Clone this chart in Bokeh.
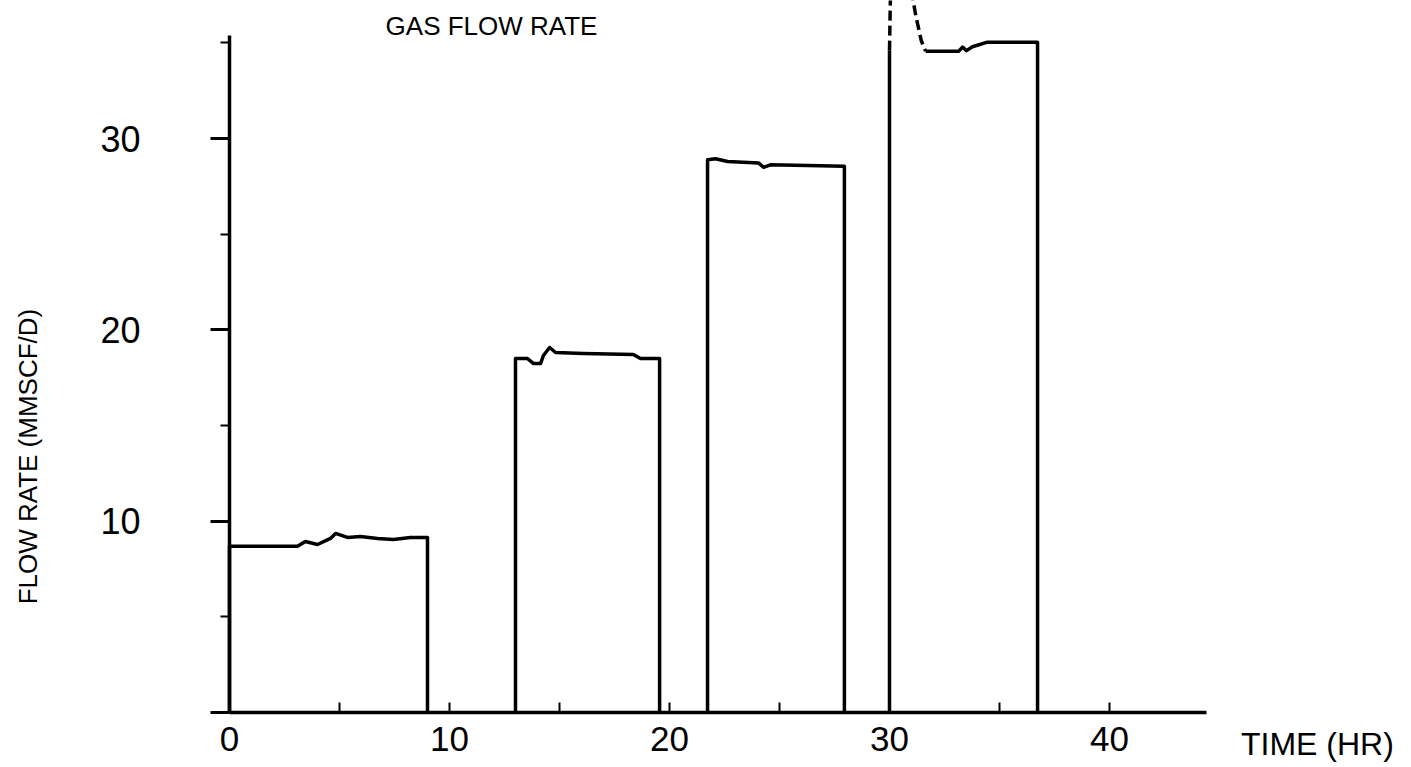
import math
from bokeh.plotting import figure
from bokeh.models import Range1d, FixedTicker, Label
from bokeh.embed import file_html
from bokeh.resources import INLINE

# ---- data (time in hours, gas flow rate in MMSCF/D) ----
b1_t = [0.0, 0.0, 3.09, 3.45, 4.0, 4.59, 4.82, 5.36, 5.95, 6.73, 7.45, 8.23, 9.0, 9.0]
b1_v = [0.0, 8.69, 8.69, 8.94, 8.78, 9.10, 9.36, 9.15, 9.20, 9.10, 9.04, 9.15, 9.15, 0.0]

b2_t = [13.0, 13.0, 13.55, 13.82, 14.14, 14.27, 14.55, 14.82, 16.09, 18.36, 18.68, 19.55, 19.55]
b2_v = [0.0, 18.5, 18.5, 18.24, 18.24, 18.66, 19.08, 18.82, 18.77, 18.72, 18.5, 18.5, 0.0]

b3_t = [21.73, 21.73, 22.09, 22.64, 24.05, 24.27, 24.59, 27.95, 27.95]
b3_v = [0.0, 28.9, 28.95, 28.8, 28.73, 28.5, 28.63, 28.56, 0.0]

b4_rise_t = [30.0, 30.0]
b4_rise_v = [0.0, 34.6]

b4_spike_t = [30.0, 30.05, 30.95, 31.2, 31.45, 31.64]
b4_spike_v = [34.6, 38.0, 38.0, 36.4, 35.1, 34.57]

b4_t = [31.64, 33.14, 33.32, 33.5, 33.77, 34.45, 36.73, 36.73]
b4_v = [34.57, 34.57, 34.78, 34.6, 34.8, 35.04, 35.04, 0.0]

x_ticks = [0, 10, 20, 30, 40]
x_minor = [5, 15, 25, 35]
y_ticks = [0, 10, 20, 30]
y_minor = [5, 15, 25, 35]
y_label_overrides = {0: ""}

title_text = "GAS FLOW RATE"
y_title = "FLOW RATE (MMSCF/D)"
x_title = "TIME (HR)"

SANS = "Liberation Sans"
LW = 3.5

p = figure(width=1408, height=764, output_backend="svg", toolbar_location=None,
           x_range=Range1d(-10.409, 53.591), y_range=Range1d(-2.718, 37.219),
           min_border=0)
p.outline_line_color = None
p.grid.grid_line_color = None
p.background_fill_color = "white"
p.border_fill_color = "white"

xa = p.xaxis[0]
xa.fixed_location = 0
xa.bounds = (0, 44.4)
xa.ticker = FixedTicker(ticks=x_ticks, minor_ticks=x_minor)
xa.axis_line_width = LW
xa.axis_line_color = "black"
xa.major_tick_in = 10
xa.major_tick_out = 0
xa.minor_tick_in = 10
xa.minor_tick_out = 0
xa.major_tick_line_width = 2
xa.minor_tick_line_width = 2
xa.major_tick_line_color = "black"
xa.minor_tick_line_color = "black"
xa.major_label_text_font = SANS
xa.major_label_text_font_size = "35px"
xa.major_label_text_color = "black"
xa.major_label_standoff = 14

ya = p.yaxis[0]
ya.fixed_location = 0
ya.bounds = (0, 35.4)
ya.ticker = FixedTicker(ticks=y_ticks, minor_ticks=y_minor)
ya.major_label_overrides = y_label_overrides
ya.axis_line_width = LW
ya.axis_line_color = "black"
ya.major_tick_in = 0
ya.major_tick_out = 19
ya.minor_tick_in = 0
ya.minor_tick_out = 9
ya.major_tick_line_width = 3
ya.minor_tick_line_width = 2
ya.major_tick_line_color = "black"
ya.minor_tick_line_color = "black"
ya.major_label_text_font = SANS
ya.major_label_text_font_size = "36px"
ya.major_label_text_color = "black"
ya.major_label_standoff = 70

for t, v in [(b1_t, b1_v), (b2_t, b2_v), (b3_t, b3_v), (b4_rise_t, b4_rise_v), (b4_t, b4_v)]:
    p.line(t, v, line_color="black", line_width=LW, line_join="round")
p.line(b4_spike_t, b4_spike_v, line_color="black", line_width=LW, line_dash="10 5")

p.add_layout(Label(x=11.91, y=35.86, text=title_text, text_font=SANS,
                   text_font_size="26px", text_align="center", text_baseline="middle",
                   text_color="black"))
p.add_layout(Label(x=-9.18, y=13.38, text=y_title, angle=math.pi / 2, text_font=SANS,
                   text_font_size="26px", text_align="center", text_baseline="middle",
                   text_color="black"))
p.add_layout(Label(x=49.45, y=-1.65, text=x_title, text_font=SANS,
                   text_font_size="32px", text_align="center", text_baseline="middle",
                   text_color="black"))

open("out.html", "w").write(file_html(p, INLINE))
